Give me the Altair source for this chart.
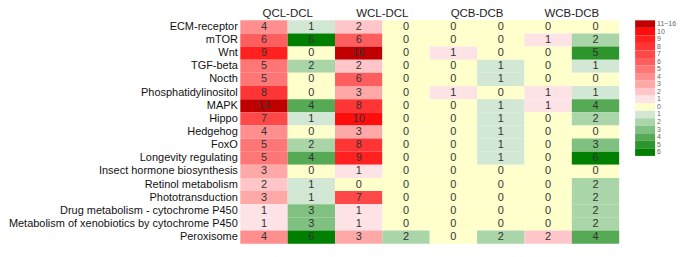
import altair as alt
import pandas as pd

pathways = ["ECM-receptor", "mTOR", "Wnt", "TGF-beta", "Nocth", "Phosphatidylinositol",
            "MAPK", "Hippo", "Hedgehog", "FoxO", "Longevity regulating",
            "Insect hormone biosynthesis", "Retinol metabolism", "Phototransduction",
            "Drug metabolism - cytochrome P450",
            "Metabolism of xenobiotics by cytochrome P450", "Peroxisome"]
groups = ["QCL-DCL", "WCL-DCL", "QCB-DCB", "WCB-DCB"]

qcl_up =   [4, 6, 9, 5, 5, 8, 14, 7, 4, 5, 5, 3, 2, 3, 1, 1, 4]
qcl_down = [1, 6, 0, 2, 0, 0, 4, 1, 0, 2, 4, 0, 1, 1, 3, 3, 6]
wcl_up =   [2, 6, 16, 2, 6, 3, 8, 10, 3, 8, 9, 1, 0, 7, 1, 1, 3]
wcl_down = [0, 0, 0, 0, 0, 0, 0, 0, 0, 0, 0, 0, 0, 0, 0, 0, 2]
qcb_up =   [0, 0, 1, 0, 0, 1, 0, 0, 0, 0, 0, 0, 0, 0, 0, 0, 0]
qcb_down = [0, 0, 0, 1, 1, 0, 1, 1, 1, 1, 1, 0, 0, 0, 0, 0, 2]
wcb_up =   [0, 1, 0, 0, 0, 1, 1, 0, 0, 0, 0, 0, 0, 0, 0, 0, 2]
wcb_down = [0, 2, 5, 1, 0, 1, 4, 2, 0, 3, 6, 0, 2, 2, 2, 2, 4]

columns = [qcl_up, qcl_down, wcl_up, wcl_down, qcb_up, qcb_down, wcb_up, wcb_down]

legend_keys = ["r11", "r10", "r9", "r8", "r7", "r6", "r5", "r4", "r3", "r2", "r1",
               "z", "g1", "g2", "g3", "g4", "g5", "g6"]
legend_labels = ["11~16", "10", "9", "8", "7", "6", "5", "4", "3", "2", "1",
                 "0", "1", "2", "3", "4", "5", "6"]
legend_colors = ["#c00000", "#ff0d0d", "#ff2020", "#ff3434", "#ff4848", "#ff5e5e",
                 "#ff7676", "#ff8f8f", "#ffa8a8", "#ffc6c9", "#fde2e6",
                 "#ffffcc", "#d2e7d4", "#a9d5a9", "#80c080", "#56aa56", "#2c952c", "#007f00"]

rows = []
for ci, col in enumerate(columns):
    for ri, v in enumerate(col):
        if v == 0:
            key = "z"
        elif ci % 2 == 0:
            key = "r" + str(min(v, 11))
        else:
            key = "g" + str(v)
        rows.append({"pathway": pathways[ri], "c0": ci, "c1": ci + 1, "cm": ci + 0.5,
                     "value": v, "key": key})
df = pd.DataFrame(rows)
gdf = pd.DataFrame({"group": groups, "gx": [1, 3, 5, 7]})
ldf = pd.DataFrame({"key": legend_keys, "label": legend_labels})

FONT = "Liberation Sans"
color_scale = alt.Scale(domain=legend_keys, range=legend_colors)
xs = alt.Scale(domain=[0, 8], nice=False, zero=False)
ys = alt.Scale(domain=pathways, paddingInner=0, paddingOuter=0)

base = alt.Chart(df)
cells = base.mark_rect().encode(
    x=alt.X("c0:Q", scale=xs, axis=None),
    x2="c1:Q",
    y=alt.Y("pathway:N", scale=ys, sort=pathways, title=None,
            axis=alt.Axis(ticks=False, domain=False, labelFontSize=11, labelFont=FONT,
                          labelColor="#111", labelPadding=3, labelLimit=400)),
    color=alt.Color("key:N", scale=color_scale, legend=None),
)
texts = base.mark_text(fontSize=11, font=FONT, color="#333", baseline="middle").encode(
    x=alt.X("cm:Q", scale=xs, axis=None),
    y=alt.Y("pathway:N", scale=ys, sort=pathways),
    text="value:Q",
)
titles = alt.Chart(gdf).mark_text(fontSize=11.5, font=FONT, color="#222", baseline="middle").encode(
    x=alt.X("gx:Q", scale=xs, axis=None),
    y=alt.value(-6),
    text="group:N",
)
heat = alt.layer(cells, texts, titles).properties(width=380, height=224)

leg_base = alt.Chart(ldf)
leg_rect = leg_base.mark_rect().encode(
    y=alt.Y("key:N", sort=legend_keys, scale=alt.Scale(paddingInner=0, paddingOuter=0), axis=None),
    x=alt.value(0), x2=alt.value(20),
    color=alt.Color("key:N", scale=color_scale, legend=None),
)
leg_text = leg_base.mark_text(fontSize=7, font=FONT, color="#666", align="left",
                              baseline="middle").encode(
    y=alt.Y("key:N", sort=legend_keys, axis=None),
    x=alt.value(22),
    text="label:N",
)
legend = alt.layer(leg_rect, leg_text).properties(width=20, height=136)

chart = alt.hconcat(heat, legend, spacing=16).properties(
    padding={"left": 0, "top": 0, "right": 0, "bottom": 0}
).configure_view(stroke=None)

chart.save("out.html", embed_options={"renderer": "svg", "actions": False})
